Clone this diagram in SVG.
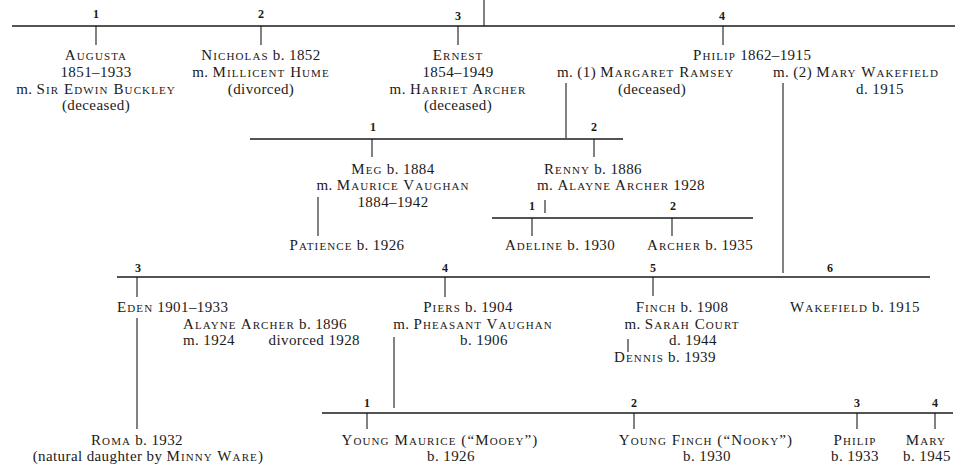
<svg xmlns="http://www.w3.org/2000/svg" width="961" height="467" viewBox="0 0 961 467">
<style>
text{font-family:"Liberation Serif","Times New Roman",serif;font-size:15px;letter-spacing:0.4px;fill:#1a1a1a}
.s{font-variant:small-caps;letter-spacing:1.1px}
.c{text-anchor:middle}
.e{text-anchor:end}
.n{font-size:12px;text-anchor:middle;font-weight:bold;letter-spacing:0;fill:#1a1a1a}
.ln{stroke:#1a1a1a;stroke-width:1.6;fill:none}
.tk{stroke:#1a1a1a;stroke-width:1.1;fill:none}
</style>
<rect width="961" height="467" fill="#fff"/>
<g id="connectors">
<line class="tk" x1="484" y1="0" x2="484" y2="26"/>
<line class="ln" x1="12" y1="26" x2="955" y2="26"/>
<line class="tk" x1="96" y1="26" x2="96" y2="45"/>
<line class="tk" x1="261" y1="26" x2="261" y2="45"/>
<line class="tk" x1="458" y1="26" x2="458" y2="45"/>
<line class="tk" x1="723" y1="26" x2="723" y2="45"/>
<line class="tk" x1="566" y1="83" x2="566" y2="138"/>
<line class="tk" x1="783" y1="83" x2="783" y2="273"/>
<line class="ln" x1="250" y1="139" x2="623" y2="139"/>
<line class="tk" x1="372" y1="139" x2="372" y2="157"/>
<line class="tk" x1="594" y1="139" x2="594" y2="157"/>
<line class="tk" x1="318" y1="197" x2="318" y2="236"/>
<line class="tk" x1="545" y1="200" x2="545" y2="213"/>
<line class="ln" x1="492" y1="218" x2="753" y2="218"/>
<line class="tk" x1="532" y1="218" x2="532" y2="236"/>
<line class="tk" x1="672" y1="218" x2="672" y2="236"/>
<line class="ln" x1="117" y1="277" x2="930" y2="277"/>
<line class="tk" x1="137" y1="277" x2="137" y2="297"/>
<line class="tk" x1="445" y1="277" x2="445" y2="297"/>
<line class="tk" x1="653" y1="277" x2="653" y2="296"/>
<line class="tk" x1="137" y1="318" x2="137" y2="429"/>
<line class="tk" x1="394" y1="337" x2="394" y2="408"/>
<line class="tk" x1="628" y1="339" x2="628" y2="352"/>
<line class="ln" x1="322" y1="413" x2="953" y2="413"/>
<line class="tk" x1="367" y1="413" x2="367" y2="429"/>
<line class="tk" x1="634" y1="413" x2="634" y2="429"/>
<line class="tk" x1="857" y1="413" x2="857" y2="429"/>
<line class="tk" x1="935" y1="413" x2="935" y2="429"/>
</g>
<g id="numbers">
<text class="n" x="96" y="18">1</text>
<text class="n" x="261" y="18">2</text>
<text class="n" x="458" y="20">3</text>
<text class="n" x="722" y="20">4</text>
<text class="n" x="373" y="131">1</text>
<text class="n" x="594" y="131">2</text>
<text class="n" x="532" y="210">1</text>
<text class="n" x="673" y="210">2</text>
<text class="n" x="138" y="272">3</text>
<text class="n" x="445" y="272">4</text>
<text class="n" x="653" y="272">5</text>
<text class="n" x="830" y="272">6</text>
<text class="n" x="367" y="407">1</text>
<text class="n" x="634" y="407">2</text>
<text class="n" x="857" y="407">3</text>
<text class="n" x="935" y="407">4</text>
</g>
<g id="augusta">
<text class="c" x="96" y="60"><tspan class="s">Augusta</tspan></text>
<text class="c" x="96" y="77">1851–1933</text>
<text class="c" x="96" y="94">m. <tspan class="s">Sir Edwin Buckley</tspan></text>
<text class="c" x="96" y="110">(deceased)</text>
</g>
<g id="nicholas">
<text class="c" x="261" y="60"><tspan class="s">Nicholas</tspan> b. 1852</text>
<text class="c" x="261" y="77">m. <tspan class="s">Millicent Hume</tspan></text>
<text class="c" x="261" y="94">(divorced)</text>
</g>
<g id="ernest">
<text class="c" x="458" y="60"><tspan class="s">Ernest</tspan></text>
<text class="c" x="458" y="77">1854–1949</text>
<text class="c" x="458" y="94">m. <tspan class="s">Harriet Archer</tspan></text>
<text class="c" x="458" y="110">(deceased)</text>
</g>
<g id="philip">
<text x="693" y="60"><tspan class="s">Philip</tspan> 1862–1915</text>
<text x="557" y="77">m. (1) <tspan class="s">Margaret Ramsey</tspan></text>
<text class="c" x="652" y="94">(deceased)</text>
<text x="773" y="77">m. (2) <tspan class="s">Mary Wakefield</tspan></text>
<text class="c" x="880" y="94">d. 1915</text>
</g>
<g id="meg">
<text class="c" x="393" y="174"><tspan class="s">Meg</tspan> b. 1884</text>
<text class="c" x="393" y="190">m. <tspan class="s">Maurice Vaughan</tspan></text>
<text class="c" x="393" y="207">1884–1942</text>
</g>
<g id="patience">
<text class="c" x="347" y="250"><tspan class="s">Patience</tspan> b. 1926</text>
</g>
<g id="renny">
<text class="c" x="593" y="174"><tspan class="s">Renny</tspan> b. 1886</text>
<text x="537" y="190">m. <tspan class="s">Alayne Archer</tspan> 1928</text>
</g>
<g id="adeline">
<text class="c" x="560" y="250"><tspan class="s">Adeline</tspan> b. 1930</text>
</g>
<g id="archer">
<text class="c" x="700" y="250"><tspan class="s">Archer</tspan> b. 1935</text>
</g>
<g id="eden">
<text x="117" y="312"><tspan class="s">Eden</tspan> 1901–1933</text>
<text x="183" y="329"><tspan class="s">Alayne Archer</tspan> b. 1896</text>
<text x="183" y="345">m. 1924</text>
<text class="e" x="360" y="345">divorced 1928</text>
</g>
<g id="piers">
<text class="c" x="468" y="312"><tspan class="s">Piers</tspan> b. 1904</text>
<text class="c" x="473" y="329">m. <tspan class="s">Pheasant Vaughan</tspan></text>
<text class="c" x="484" y="345">b. 1906</text>
</g>
<g id="finch">
<text class="c" x="682" y="312"><tspan class="s">Finch</tspan> b. 1908</text>
<text class="c" x="682" y="329">m. <tspan class="s">Sarah Court</tspan></text>
<text class="c" x="693" y="345">d. 1944</text>
</g>
<g id="dennis">
<text class="c" x="665" y="362"><tspan class="s">Dennis</tspan> b. 1939</text>
</g>
<g id="wakefield">
<text class="c" x="855" y="312"><tspan class="s">Wakefield</tspan> b. 1915</text>
</g>
<g id="roma">
<text class="c" x="137" y="445"><tspan class="s">Roma</tspan> b. 1932</text>
<text class="c" x="148" y="461">(natural daughter by <tspan class="s">Minny Ware</tspan>)</text>
</g>
<g id="young-maurice">
<text class="c" x="440" y="445"><tspan class="s">Young Maurice (“Mooey”)</tspan></text>
<text class="c" x="451" y="461">b. 1926</text>
</g>
<g id="young-finch">
<text class="c" x="706" y="445"><tspan class="s">Young Finch (“Nooky”)</tspan></text>
<text class="c" x="707" y="461">b. 1930</text>
</g>
<g id="philip-jr">
<text class="c" x="855" y="445"><tspan class="s">Philip</tspan></text>
<text class="c" x="855" y="461">b. 1933</text>
</g>
<g id="mary">
<text class="c" x="926" y="445"><tspan class="s">Mary</tspan></text>
<text class="c" x="927" y="461">b. 1945</text>
</g>
</svg>
